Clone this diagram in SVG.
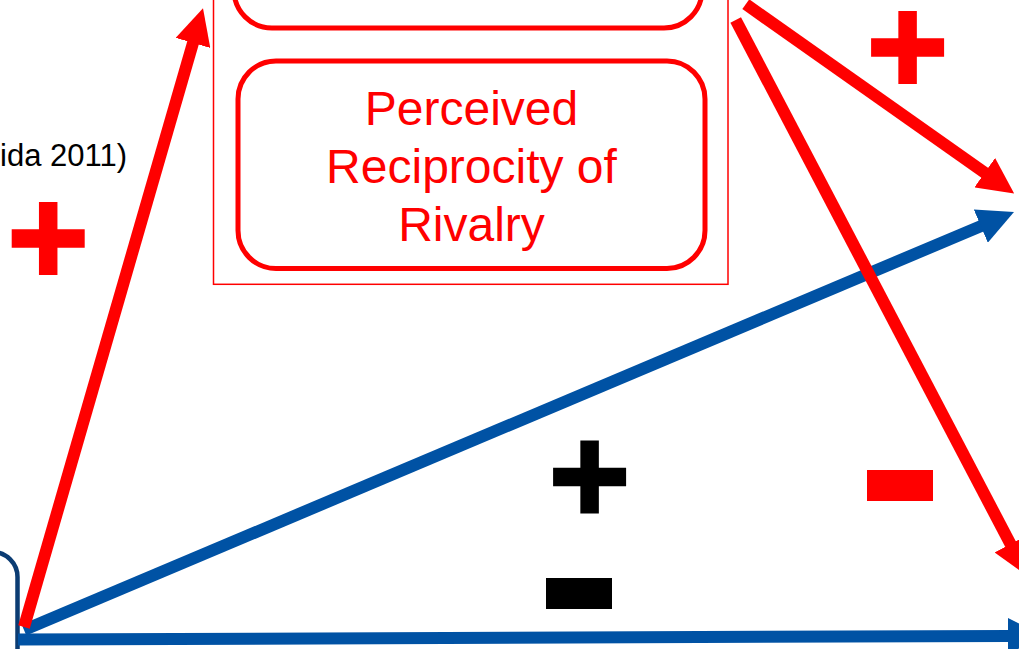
<svg xmlns="http://www.w3.org/2000/svg" width="1019" height="649" viewBox="0 0 1019 649">
  <style>
    .frame { fill: none; stroke: #FF0000; stroke-width: 1.5; }
    .box { fill: #FFFFFF; stroke: #FF0000; stroke-width: 5; }
    .navy { fill: #FFFFFF; stroke: #0B3C73; stroke-width: 4.5; }
    .label { font-family: "Liberation Sans", Arial, sans-serif; font-size: 48px; fill: #FF0000; text-anchor: middle; }
    .cite { font-family: "Liberation Sans", Arial, sans-serif; font-size: 31px; fill: #000000; text-anchor: end; }
    .red { stroke: #FF0000; stroke-width: 12; fill: none; marker-end: url(#headRed); }
    .blue { stroke: #0052A4; stroke-width: 12; fill: none; marker-end: url(#headBlue); }
  </style>
  <defs>
    <marker id="headRed" viewBox="0 0 10 10" refX="0.3" refY="5" markerWidth="3" markerHeight="3" markerUnits="strokeWidth" orient="auto">
      <path d="M0,0 L10,5 L0,10 Z" fill="#FF0000"/>
    </marker>
    <marker id="headBlue" viewBox="0 0 10 10" refX="0.3" refY="5" markerWidth="3" markerHeight="3" markerUnits="strokeWidth" orient="auto">
      <path d="M0,0 L10,5 L0,10 Z" fill="#0052A4"/>
    </marker>
    <path id="plus" d="M-36.5,-9.25 h73 v18.5 h-73 Z M-9.25,-36.5 h18.5 v73 h-18.5 Z"/>
  </defs>

  <rect width="1019" height="649" fill="#FFFFFF"/>

  <!-- left-hand source node (bottom left) -->
  <g id="node-source">
    <rect class="navy" x="-200" y="552" width="217.5" height="220" rx="25" ry="25"/>
  </g>

  <!-- moderator frame holding the two rivalry nodes -->
  <g id="node-frame">
    <rect class="frame" x="213.5" y="-100" width="514.5" height="384.3"/>
  </g>
  <g id="node-upper">
    <rect class="box" x="234" y="-200" width="468" height="228" rx="38" ry="38"/>
  </g>
  <g id="node-reciprocity">
    <rect class="box" x="238" y="61" width="467" height="207.5" rx="38" ry="38"/>
    <text class="label" x="471.5" y="125">Perceived</text>
    <text class="label" x="471.5" y="182.7">Reciprocity of</text>
    <text class="label" x="471.5" y="240.7">Rivalry</text>
  </g>

  <!-- citation fragment -->
  <g id="citation">
    <text class="cite" x="127" y="166">ida 2011)</text>
  </g>

  <!-- connectors: blue paths first, red paths over them -->
  <g id="connectors">
    <line class="blue" x1="18" y1="639.5" x2="1009" y2="636"/>
    <line class="blue" x1="24" y1="630" x2="981.8" y2="225.7"/>
    <line class="red" x1="24" y1="627" x2="193.3" y2="41.9"/>
    <line class="red" x1="745.8" y1="4.2" x2="985.6" y2="173.3"/>
    <line class="red" x1="735.7" y1="20" x2="1011" y2="545"/>
  </g>

  <!-- sign markers on the paths -->
  <g id="signs">
    <use href="#plus" transform="translate(48.2,238.4)" fill="#FF0000"/>
    <use href="#plus" transform="translate(907.6,47.4)" fill="#FF0000"/>
    <use href="#plus" transform="translate(589.6,476.9)" fill="#000000"/>
    <rect x="867" y="470" width="66" height="31" fill="#FF0000"/>
    <rect x="546" y="578" width="66" height="31" fill="#000000"/>
  </g>
</svg>
